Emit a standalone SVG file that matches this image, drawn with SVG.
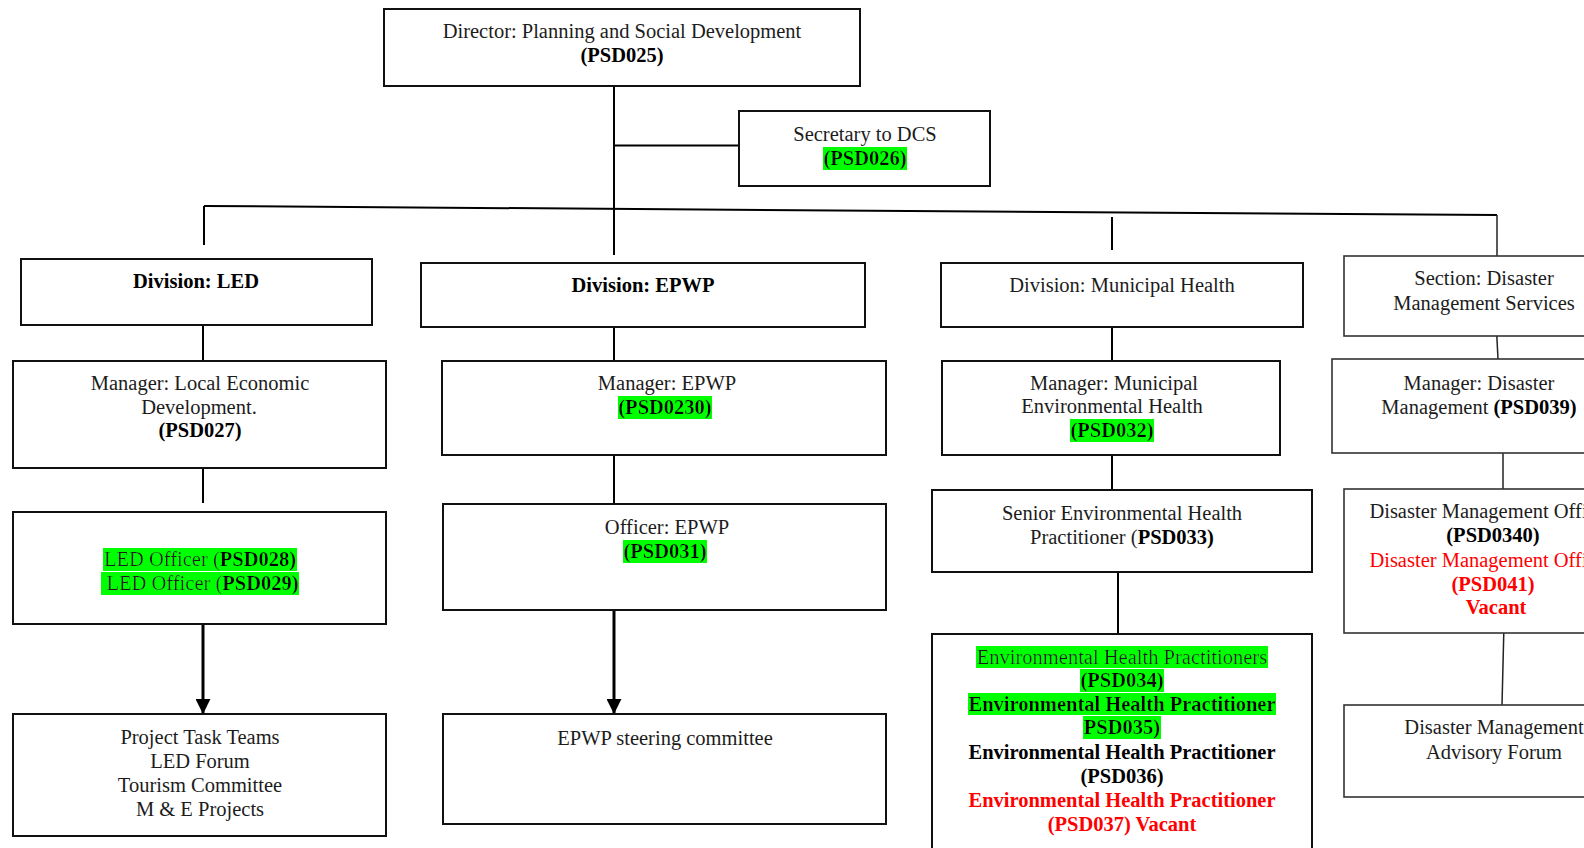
<svg xmlns="http://www.w3.org/2000/svg" width="1584" height="848" viewBox="0 0 1584 848">
  <style>
    .box { fill: #ffffff; stroke: #111111; stroke-width: 2; }
    .thin { stroke-width: 1.6; stroke: #333333; }
    .ln { stroke: #000000; stroke-width: 2; fill: none; }
    .lnt { stroke: #222222; stroke-width: 1.5; fill: none; }
    .arr { stroke: #000000; stroke-width: 3; fill: none; }
    text { font-family: "Liberation Serif", "Times New Roman", serif; font-size: 20.5px; fill: #1c1c1c; text-anchor: middle; }
    .b { font-weight: bold; fill: #000000; }
    .red { fill: #ff0000; }
    .hl { filter: url(#hl); }
  </style>
  <defs>
    <!-- green highlighter sized to each text run's own box -->
    <filter id="hl" x="0" y="0" width="1" height="1">
      <feFlood flood-color="#00ff00" result="bg"/>
      <feMerge>
        <feMergeNode in="bg"/>
        <feMergeNode in="SourceGraphic"/>
      </feMerge>
    </filter>
    <marker id="ah" markerWidth="5" markerHeight="5" refX="4.7" refY="2.5" orient="auto" markerUnits="strokeWidth">
      <path d="M0,0 L5,2.5 L0,5 Z" fill="#000000"/>
    </marker>
  </defs>

  <rect width="1584" height="848" fill="#ffffff"/>

  <!-- connectors -->
  <g id="connectors">
    <line class="ln" x1="614" y1="86" x2="614" y2="255"/>
    <line class="ln" x1="614" y1="145.5" x2="739" y2="145.5"/>
    <line class="ln" x1="204" y1="206" x2="1497" y2="215"/>
    <line class="ln" x1="204" y1="206" x2="204" y2="245"/>
    <line class="ln" x1="1112" y1="217" x2="1112" y2="250"/>
    <line class="lnt" x1="1497" y1="215" x2="1497" y2="256"/>
    <!-- LED column -->
    <line class="ln" x1="203" y1="311" x2="203" y2="369"/>
    <line class="ln" x1="203" y1="455" x2="203" y2="503"/>
    <line class="arr" x1="203" y1="624" x2="203" y2="713" marker-end="url(#ah)"/>
    <!-- EPWP column -->
    <line class="ln" x1="614" y1="308" x2="614" y2="368"/>
    <line class="ln" x1="614" y1="447" x2="614" y2="512"/>
    <line class="arr" x1="614" y1="610" x2="614" y2="713" marker-end="url(#ah)"/>
    <!-- Municipal Health column -->
    <line class="ln" x1="1112" y1="306" x2="1112" y2="367"/>
    <line class="ln" x1="1112" y1="442" x2="1112" y2="490"/>
    <line class="ln" x1="1118" y1="572" x2="1118" y2="634"/>
    <!-- Disaster Management column -->
    <line class="lnt" x1="1496" y1="320" x2="1498" y2="359"/>
    <line class="lnt" x1="1503" y1="447" x2="1503" y2="489"/>
    <line class="lnt" x1="1504" y1="624" x2="1502" y2="705"/>
  </g>

  <g id="director">
    <rect class="box" x="384" y="9" width="476" height="77"/>
    <text x="622" y="38">Director: Planning and Social Development</text>
    <text class="b" x="622" y="62">(PSD025)</text>
  </g>

  <g id="secretary">
    <rect class="box" x="739" y="111" width="251" height="75"/>
    <text x="865" y="141">Secretary to DCS</text>
    <text class="b hl" x="865" y="165">(PSD026)</text>
  </g>

  <!-- LED -->
  <g id="div-led">
    <rect class="box" x="21" y="259" width="351" height="66"/>
    <text class="b" x="196" y="288">Division: LED</text>
  </g>
  <g id="mgr-led">
    <rect class="box" x="13" y="361" width="373" height="107"/>
    <text x="200" y="390">Manager: Local Economic</text>
    <text x="199" y="414">Development.</text>
    <text class="b" x="200" y="437">(PSD027)</text>
  </g>
  <g id="led-officers">
    <rect class="box" x="13" y="512" width="373" height="112"/>
    <text class="hl" x="200" y="566">LED Officer (<tspan class="b">PSD028)</tspan></text>
    <text class="hl" x="200" y="590" xml:space="preserve"> LED Officer (<tspan class="b">PSD029)</tspan></text>
  </g>
  <g id="led-teams">
    <rect class="box" x="13" y="714" width="373" height="122"/>
    <text x="200" y="744">Project Task Teams</text>
    <text x="200" y="768">LED Forum</text>
    <text x="200" y="792">Tourism Committee</text>
    <text x="200" y="816">M &amp; E Projects</text>
  </g>

  <!-- EPWP -->
  <g id="div-epwp">
    <rect class="box" x="421" y="263" width="444" height="64"/>
    <text class="b" x="643" y="292">Division: EPWP</text>
  </g>
  <g id="mgr-epwp">
    <rect class="box" x="442" y="361" width="444" height="94"/>
    <text x="667" y="390">Manager: EPWP</text>
    <text class="b hl" x="665" y="414">(PSD0230)</text>
  </g>
  <g id="officer-epwp">
    <rect class="box" x="443" y="504" width="443" height="106"/>
    <text x="667" y="534">Officer: EPWP</text>
    <text class="b hl" x="665" y="558">(PSD031)</text>
  </g>
  <g id="epwp-committee">
    <rect class="box" x="443" y="714" width="443" height="110"/>
    <text x="665" y="745">EPWP steering committee</text>
  </g>

  <!-- Municipal Health -->
  <g id="div-mh">
    <rect class="box" x="941" y="263" width="362" height="64"/>
    <text x="1122" y="292">Division: Municipal Health</text>
  </g>
  <g id="mgr-mh">
    <rect class="box" x="942" y="361" width="338" height="94"/>
    <text x="1114" y="390">Manager: Municipal</text>
    <text x="1112" y="413">Environmental Health</text>
    <text class="b hl" x="1112" y="437">(PSD032)</text>
  </g>
  <g id="senior-ehp">
    <rect class="box" x="932" y="490" width="380" height="82"/>
    <text x="1122" y="520">Senior Environmental Health</text>
    <text x="1122" y="544">Practitioner (<tspan class="b">PSD033)</tspan></text>
  </g>
  <g id="ehp">
    <rect class="box" x="932" y="634" width="380" height="230"/>
    <text class="hl" x="1122" y="664">Environmental Health Practitioners</text>
    <text class="b hl" x="1122" y="687">(PSD034)</text>
    <text class="b hl" x="1122" y="711">Environmental Health Practitioner</text>
    <text class="b hl" x="1122" y="734">PSD035)</text>
    <text class="b" x="1122" y="759">Environmental Health Practitioner</text>
    <text class="b" x="1122" y="783">(PSD036)</text>
    <text class="b red" x="1122" y="807">Environmental Health Practitioner</text>
    <text class="b red" x="1122" y="831">(PSD037) Vacant</text>
  </g>

  <!-- Disaster Management -->
  <g id="sec-dm">
    <rect class="box thin" x="1344" y="256" width="260" height="80"/>
    <text x="1484" y="285">Section: Disaster</text>
    <text x="1484" y="310">Management Services</text>
  </g>
  <g id="mgr-dm">
    <rect class="box thin" x="1332" y="359" width="272" height="94"/>
    <text x="1479" y="390">Manager: Disaster</text>
    <text x="1479" y="414">Management <tspan class="b">(PSD039)</tspan></text>
  </g>
  <g id="dm-officers">
    <rect class="box thin" x="1344" y="489" width="260" height="144"/>
    <text x="1491" y="518">Disaster Management Officer</text>
    <text class="b" x="1493" y="542">(PSD0340)</text>
    <text class="red" x="1491" y="567">Disaster Management Officer</text>
    <text class="b red" x="1493" y="591">(PSD041)</text>
    <text class="b red" x="1496" y="614">Vacant</text>
  </g>
  <g id="dm-forum">
    <rect class="box thin" x="1344" y="705" width="260" height="92"/>
    <text x="1494" y="734">Disaster Management</text>
    <text x="1494" y="759">Advisory Forum</text>
  </g>
</svg>
